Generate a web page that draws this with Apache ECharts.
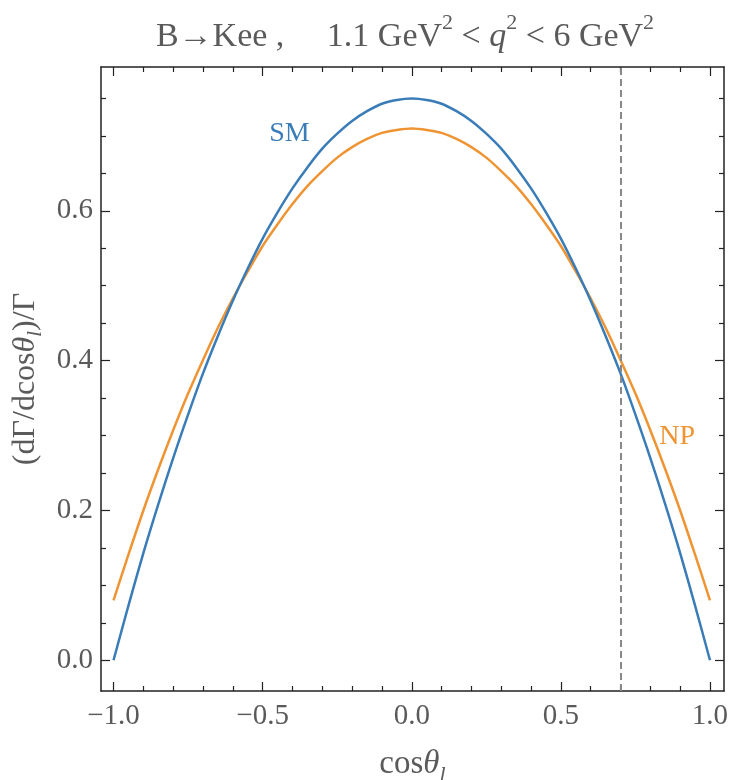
<!DOCTYPE html>
<html>
<head>
<meta charset="utf-8">
<script src="https://cdn.jsdelivr.net/npm/echarts@6/dist/echarts.min.js"></script>
<style>
  html, body { margin: 0; padding: 0; background: #fff; }
  #chart { width: 740px; height: 780px; }
</style>
</head>
<body>
<div id="chart"></div>
<script>
// ---- data ----
const cosTheta = [-1.00, -0.95, -0.90, -0.85, -0.80, -0.75, -0.70, -0.65, -0.60, -0.55, -0.50,
                  -0.45, -0.40, -0.35, -0.30, -0.25, -0.20, -0.15, -0.10, -0.05, 0.00,
                   0.05, 0.10, 0.15, 0.20, 0.25, 0.30, 0.35, 0.40, 0.45, 0.50,
                   0.55, 0.60, 0.65, 0.70, 0.75, 0.80, 0.85, 0.90, 0.95, 1.00];
const smValues = [0.000, 0.073, 0.143, 0.208, 0.270, 0.328, 0.383, 0.433, 0.480, 0.523, 0.563,
                  0.598, 0.630, 0.658, 0.683, 0.703, 0.720, 0.733, 0.743, 0.748, 0.750,
                  0.748, 0.743, 0.733, 0.720, 0.703, 0.683, 0.658, 0.630, 0.598, 0.563,
                  0.523, 0.480, 0.433, 0.383, 0.328, 0.270, 0.208, 0.143, 0.073, 0.000];
const npValues = [0.080, 0.141, 0.200, 0.255, 0.307, 0.356, 0.401, 0.444, 0.483, 0.519, 0.553,
                  0.582, 0.609, 0.633, 0.653, 0.671, 0.685, 0.696, 0.704, 0.708, 0.710,
                  0.708, 0.704, 0.696, 0.685, 0.671, 0.653, 0.633, 0.609, 0.582, 0.553,
                  0.519, 0.483, 0.444, 0.401, 0.356, 0.307, 0.255, 0.200, 0.141, 0.080];
const cutValue = 0.7;
const xMajorTicks = [-1.0, -0.5, 0.0, 0.5, 1.0];
const xMinorTicks = [-0.9, -0.8, -0.7, -0.6, -0.4, -0.3, -0.2, -0.1, 0.1, 0.2, 0.3, 0.4, 0.6, 0.7, 0.8, 0.9];
const yMajorTicks = [0.0, 0.2, 0.4, 0.6];
const yMinorTicks = [0.05, 0.1, 0.15, 0.25, 0.3, 0.35, 0.45, 0.5, 0.55, 0.65, 0.7, 0.75];
const seriesNames = ['SM', 'NP'];
const labelPositions = [[-0.41, 0.703], [0.89, 0.298]];
const xRange = [-1.042, 1.047];
const yRange = [-0.041, 0.792];

const BLUE = '#3a7cb8';
const ORANGE = '#ef9433';
const TEXT = '#5a5a5a';
const SERIF = '"Liberation Serif", "DejaVu Serif", serif';

const chart = echarts.init(document.getElementById('chart'), null, { renderer: 'canvas' });

function fmt(v) {
  return (v < 0 ? '\u2212' : '') + Math.abs(v).toFixed(1);
}

function makeX(pos, ticks, len, showLine, showLabel) {
  return {
    type: 'value', position: pos, min: xRange[0], max: xRange[1],
    axisLine: { show: showLine, onZero: false, lineStyle: { color: '#222', width: 1.5 } },
    axisTick: { show: true, inside: true, length: len, customValues: ticks, lineStyle: { color: '#222', width: 1.2 } },
    axisLabel: { show: showLabel, customValues: ticks, formatter: fmt, color: TEXT, fontFamily: SERIF, fontSize: 29, margin: 11 },
    splitLine: { show: false }
  };
}
function makeY(pos, ticks, len, showLine, showLabel) {
  return {
    type: 'value', position: pos, min: yRange[0], max: yRange[1],
    axisLine: { show: showLine, onZero: false, lineStyle: { color: '#222', width: 1.5 } },
    axisTick: { show: true, inside: true, length: len, customValues: ticks, lineStyle: { color: '#222', width: 1.2 } },
    axisLabel: { show: showLabel, customValues: ticks, formatter: v => v.toFixed(1), color: TEXT, fontFamily: SERIF, fontSize: 29, margin: 8 },
    splitLine: { show: false }
  };
}

const xAxes = [
  makeX('bottom', xMajorTicks, 9, true, true),
  makeX('bottom', xMinorTicks, 5, false, false),
  makeX('top', xMajorTicks, 9, true, false),
  makeX('top', xMinorTicks, 5, false, false)
];
xAxes[0].name = '{n|cos}{i|θ}{s|l}';
xAxes[0].nameLocation = 'middle';
xAxes[0].nameGap = 51;
xAxes[0].nameTextStyle = {
  rich: {
    n: { fontFamily: SERIF, fontSize: 33, color: TEXT, lineHeight: 44, verticalAlign: 'middle' },
    i: { fontFamily: SERIF, fontSize: 33, color: TEXT, fontStyle: 'italic', lineHeight: 44, verticalAlign: 'middle' },
    s: { fontFamily: SERIF, fontSize: 22, color: TEXT, fontStyle: 'italic', lineHeight: 44, verticalAlign: 'bottom' }
  }
};

const yAxes = [
  makeY('left', yMajorTicks, 9, true, true),
  makeY('left', yMinorTicks, 5, false, false),
  makeY('right', yMajorTicks, 9, true, false),
  makeY('right', yMinorTicks, 5, false, false)
];
yAxes[0].name = '{n|(dΓ/dcos}{i|θ}{s|l}{n|)/Γ}';
yAxes[0].nameLocation = 'middle';
yAxes[0].nameGap = 46;
yAxes[0].nameTextStyle = {
  rich: {
    n: { fontFamily: SERIF, fontSize: 32, color: TEXT, lineHeight: 40, verticalAlign: 'middle' },
    i: { fontFamily: SERIF, fontSize: 32, color: TEXT, fontStyle: 'italic', lineHeight: 40, verticalAlign: 'middle' },
    s: { fontFamily: SERIF, fontSize: 21, color: TEXT, fontStyle: 'italic', lineHeight: 40, verticalAlign: 'bottom' }
  }
};

const smData = cosTheta.map((x, i) => [x, smValues[i]]);
const npData = cosTheta.map((x, i) => [x, npValues[i]]);

const option = {
  backgroundColor: '#fff',
  animation: false,
  title: {
    text: '{n|B\u2192Kee ,     1.1 GeV}{sup|2}{n| < }{i|q}{sup|2}{n| < 6 GeV}{sup|2}',
    left: 400, top: 7, textAlign: 'center',
    textStyle: {
      fontWeight: 'normal',
      rich: {
        n: { fontFamily: SERIF, fontSize: 34, fontWeight: 'normal', color: TEXT, lineHeight: 50, verticalAlign: 'middle' },
        i: { fontFamily: SERIF, fontSize: 34, fontWeight: 'normal', color: TEXT, fontStyle: 'italic', lineHeight: 50, verticalAlign: 'middle' },
        sup: { fontFamily: SERIF, fontSize: 22, fontWeight: 'normal', color: TEXT, lineHeight: 48, verticalAlign: 'top' }
      }
    }
  },
  grid: { left: 101, right: 16, top: 67, bottom: 89, containLabel: false, outerBoundsMode: 'none' },
  xAxis: xAxes,
  yAxis: yAxes,
  series: [
    {
      name: seriesNames[0], type: 'line', xAxisIndex: 0, yAxisIndex: 0,
      data: smData, smooth: 0.3, showSymbol: false,
      lineStyle: { color: BLUE, width: 2.5 },
      markLine: {
        silent: true, symbol: ['none', 'none'],
        label: { show: false },
        lineStyle: { color: '#888', type: [7, 4], width: 2 },
        data: [{ xAxis: cutValue }]
      },
      z: 3
    },
    {
      name: seriesNames[1], type: 'line', xAxisIndex: 0, yAxisIndex: 0,
      data: npData, smooth: 0.3, showSymbol: false,
      lineStyle: { color: ORANGE, width: 2.5 },
      z: 2
    },
    {
      type: 'scatter', xAxisIndex: 0, yAxisIndex: 0, symbolSize: 0, silent: true,
      itemStyle: { opacity: 1 },
      data: [
        { value: labelPositions[0], label: { formatter: seriesNames[0], color: BLUE } },
        { value: labelPositions[1], label: { formatter: seriesNames[1], color: ORANGE } }
      ],
      label: { show: true, position: 'inside', fontFamily: SERIF, fontSize: 28, opacity: 1 }
    }
  ]
};
chart.setOption(option);
</script>
</body>
</html>
